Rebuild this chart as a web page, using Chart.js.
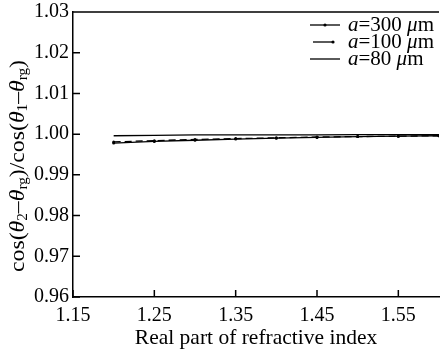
<!DOCTYPE html>
<html>
<head>
<meta charset="utf-8">
<script src="https://cdn.jsdelivr.net/npm/chart.js@4.4.0/dist/chart.umd.min.js"></script>
<style>
    html, body { margin: 0; padding: 0; background: #fff; }
    #wrap { width: 443px; height: 354px; }
</style>
</head>
<body>
<div id="wrap"><canvas id="cosChart" width="443" height="354"></canvas></div>
<script>
// ---- data ----
var refrIndex = [1.20, 1.25, 1.30, 1.35, 1.40, 1.45, 1.50, 1.55, 1.60];
var ratioA300 = [0.9978, 0.9982, 0.9985, 0.9988, 0.9990, 0.9992, 0.9994, 0.9995, 0.9996];
var ratioA100 = [0.9981, 0.9984, 0.9987, 0.9989, 0.9991, 0.9993, 0.9994, 0.9995, 0.9996];
var ratioA80  = [0.9996, 0.9997, 0.9998, 0.9998, 0.9998, 0.9998, 0.9999, 0.9999, 0.9999];
var xTicks = [1.15, 1.25, 1.35, 1.45, 1.55];
var yTicks = [0.96, 0.97, 0.98, 0.99, 1.00, 1.01, 1.02, 1.03];
var seriesNames = ['300', '100', '80'];

var serif = '"Liberation Serif", "DejaVu Serif", serif';

function toPoints(xs, ys) {
    var pts = [];
    for (var i = 0; i < xs.length; i++) {
        pts.push({x: xs[i], y: ys[i]});
    }
    return pts;
}

// frame on top + inward tick marks
var framePlugin = {
    id: 'frame',
    afterDraw: function(chart) {
        var ctx = chart.ctx, a = chart.chartArea;
        var xs = chart.scales.x, ys = chart.scales.y;
        ctx.save();
        ctx.strokeStyle = '#000';
        ctx.lineWidth = 1.5;
        ctx.beginPath();
        ctx.moveTo(a.left, a.top);
        ctx.lineTo(a.right, a.top);
        xs.ticks.forEach(function(t) {
            var px = xs.getPixelForValue(t.value);
            ctx.moveTo(px, a.bottom);
            ctx.lineTo(px, a.bottom - 7);
        });
        ys.ticks.forEach(function(t) {
            var py = ys.getPixelForValue(t.value);
            ctx.moveTo(a.left, py);
            ctx.lineTo(a.left + 7, py);
        });
        ctx.stroke();
        ctx.restore();
    }
};

// draws a run of [text, style] pieces, style: n normal, i italic, s subscript
function drawRuns(ctx, runs, x, y, size) {
    var cx = x;
    runs.forEach(function(r) {
        var sz = r[1] === 's' ? Math.round(size * 0.62) : size;
        var dy = r[1] === 's' ? size * 0.22 : 0;
        ctx.font = (r[1] === 'i' ? 'italic ' : '') + sz + 'px ' + serif;
        ctx.fillText(r[0], cx, y + dy);
        cx += ctx.measureText(r[0]).width;
    });
    return cx - x;
}
function runsWidth(ctx, runs, size) {
    var w = 0;
    runs.forEach(function(r) {
        var sz = r[1] === 's' ? Math.round(size * 0.62) : size;
        ctx.font = (r[1] === 'i' ? 'italic ' : '') + sz + 'px ' + serif;
        w += ctx.measureText(r[0]).width;
    });
    return w;
}

var yTitleRuns = [
    ['cos(', 'n'], ['\u03b8', 'i'], ['2', 's'], ['\u2013', 'n'], ['\u03b8', 'i'], ['rg', 's'],
    [')/cos(', 'n'], ['\u03b8', 'i'], ['1', 's'], ['\u2013', 'n'], ['\u03b8', 'i'], ['rg', 's'], [')', 'n']
];

var titlePlugin = {
    id: 'yTitle',
    afterDraw: function(chart) {
        var ctx = chart.ctx;
        ctx.save();
        ctx.fillStyle = '#000';
        ctx.textBaseline = 'middle';
        var w = runsWidth(ctx, yTitleRuns, 22);
        ctx.translate(18, 166);
        ctx.rotate(-Math.PI / 2);
        ctx.scale(212 / w, 1);
        drawRuns(ctx, yTitleRuns, -w / 2, 0, 22);
        ctx.restore();
    }
};

// legend with italic a and mu
var legendPlugin = {
    id: 'paperLegend',
    afterDraw: function(chart) {
        var ctx = chart.ctx;
        ctx.save();
        ctx.fillStyle = '#000';
        ctx.strokeStyle = '#000';
        ctx.textBaseline = 'middle';
        chart.data.datasets.forEach(function(ds, i) {
            var y = 25 + i * 17;
            ctx.lineWidth = 1.3;
            ctx.setLineDash([]);
            ctx.beginPath();
            if (i === 1) {
                ctx.moveTo(313, y); ctx.lineTo(333, y);
            } else {
                ctx.moveTo(310, y); ctx.lineTo(340, y);
            }
            ctx.stroke();
            if (i < 2) {
                ctx.beginPath();
                ctx.arc(i === 1 ? 333 : 325, y, 1.6, 0, Math.PI * 2);
                ctx.fill();
            }
            drawRuns(ctx, [['a', 'i'], ['=' + seriesNames[i] + ' ', 'n'], ['\u03bc', 'i'], ['m', 'n']], 348, y, 21);
        });
        ctx.restore();
    }
};

var ctxCos = document.getElementById('cosChart');
var chartInstanceCos = new Chart(ctxCos, {
    type: 'line',
    data: {
        datasets: [
            {
                label: 'a=300 \u03bcm',
                data: toPoints(refrIndex, ratioA300),
                borderColor: '#000',
                backgroundColor: '#000',
                borderWidth: 1.3,
                pointRadius: 1.5,
                pointBorderWidth: 0,
                tension: 0,
                fill: false
            },
            {
                label: 'a=100 \u03bcm',
                data: toPoints(refrIndex, ratioA100),
                borderColor: '#000',
                backgroundColor: '#000',
                borderWidth: 1.3,
                borderDash: [7, 4],
                pointRadius: 1.5,
                pointBorderWidth: 0,
                tension: 0,
                fill: false
            },
            {
                label: 'a=80 \u03bcm',
                data: toPoints(refrIndex, ratioA80),
                borderColor: '#000',
                borderWidth: 1.3,
                pointRadius: 0,
                tension: 0,
                fill: false
            }
        ]
    },
    options: {
        responsive: false,
        animation: false,
        layout: { padding: { top: 0, right: 0, bottom: 0, left: 0 } },
        plugins: {
            legend: { display: false },
            tooltip: { enabled: false }
        },
        scales: {
            x: {
                type: 'linear',
                min: 1.15,
                max: 1.6,
                afterBuildTicks: function(scale) {
                    scale.ticks = xTicks.map(function(v) { return {value: v}; });
                },
                afterFit: function(scale) { scale.height = 57; },
                grid: { display: false, drawTicks: false },
                border: { display: true, color: '#000', width: 1.5 },
                ticks: {
                    color: '#000',
                    padding: 7,
                    maxRotation: 0,
                    font: { family: serif, size: 20 },
                    callback: function(v) { return v.toFixed(2); }
                },
                title: {
                    display: true,
                    text: 'Real part of refractive index',
                    color: '#000',
                    font: { family: serif, size: 21.5 },
                    padding: { top: 0, bottom: 3 }
                }
            },
            y: {
                min: 0.96,
                max: 1.03,
                afterBuildTicks: function(scale) {
                    scale.ticks = yTicks.map(function(v) { return {value: v}; });
                },
                afterFit: function(scale) { scale.width = 73; },
                grid: { display: false, drawTicks: false },
                border: { display: true, color: '#000', width: 1.5 },
                ticks: {
                    color: '#000',
                    padding: 4,
                    font: { family: serif, size: 20, lineHeight: 0.8 },
                    callback: function(v) { return v.toFixed(2); }
                }
            }
        }
    },
    plugins: [framePlugin, titlePlugin, legendPlugin]
});
</script>
</body>
</html>
